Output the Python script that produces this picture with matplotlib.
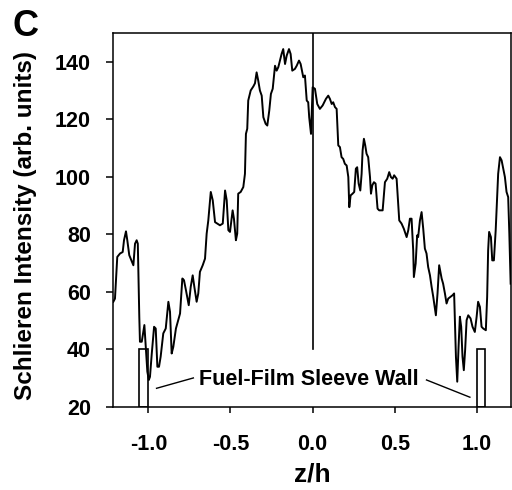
import numpy as np
import matplotlib
matplotlib.use("Agg")
import matplotlib.pyplot as plt
from matplotlib.patches import Rectangle

plt.rcParams['font.family'] = ['Liberation Sans', 'DejaVu Sans']
plt.rcParams['font.weight'] = 'bold'

# schlieren intensity profile across the channel (z/h)
z_h = [-1.213, -1.203, -1.189, -1.172, -1.156, -1.148, -1.136, -1.128, -1.116, -1.099,
       -1.091, -1.081, -1.071, -1.064, -1.055, -1.051, -1.040, -1.024, -1.014, -1.006,
       -0.997, -0.990, -0.979, -0.965, -0.955, -0.945, -0.935, -0.925, -0.909, -0.894,
       -0.878, -0.868, -0.858, -0.848, -0.832, -0.818, -0.807, -0.793, -0.783, -0.771,
       -0.754, -0.742, -0.730, -0.720, -0.706, -0.696, -0.686, -0.669, -0.655, -0.645,
       -0.635, -0.620, -0.608, -0.594, -0.564, -0.547, -0.533, -0.523, -0.513, -0.503,
       -0.487, -0.479, -0.467, -0.459, -0.453, -0.438, -0.422, -0.412, -0.406, -0.398,
       -0.392, -0.377, -0.361, -0.351, -0.341, -0.331, -0.321, -0.310, -0.300, -0.286,
       -0.276, -0.264, -0.254, -0.243, -0.229, -0.219, -0.209, -0.199, -0.189, -0.179,
       -0.168, -0.158, -0.144, -0.134, -0.124, -0.108, -0.097, -0.083, -0.073,
       -0.057, -0.047, -0.036, -0.027, -0.021, -0.010, 0.0, 0.014, 0.028, 0.044,
       0.061, 0.081, 0.095, 0.105, 0.116, 0.125, 0.136, 0.146, 0.156, 0.166,
       0.176, 0.186, 0.196, 0.207, 0.217, 0.223, 0.231, 0.243, 0.253, 0.263,
       0.271, 0.280, 0.290, 0.298, 0.304, 0.312, 0.320, 0.328, 0.338, 0.349,
       0.355, 0.363, 0.373, 0.383, 0.395, 0.405, 0.426, 0.440, 0.454, 0.466,
       0.476, 0.487, 0.496, 0.511, 0.521, 0.527, 0.541, 0.555, 0.572, 0.582, 0.592,
       0.602, 0.612, 0.616, 0.627, 0.636, 0.642, 0.653, 0.663, 0.673, 0.683,
       0.693, 0.703, 0.714, 0.724, 0.734, 0.750, 0.760, 0.770, 0.785, 0.794,
       0.805, 0.815, 0.825, 0.839, 0.852, 0.861, 0.866, 0.872, 0.880, 0.888,
       0.896, 0.904, 0.912, 0.920, 0.928, 0.937, 0.947, 0.961, 0.973, 0.987,
       0.998, 1.007, 1.018, 1.028, 1.038, 1.054, 1.062, 1.068, 1.074, 1.085,
       1.093, 1.103, 1.114, 1.119, 1.129, 1.140, 1.150, 1.160, 1.170, 1.180,
       1.190, 1.197, 1.205]
intensity = [56.5, 57.6, 72.1, 73.3, 73.8, 77.9, 81.0, 77.9, 72.7, 70.3,
             69.2, 76.7, 77.9, 76.7, 51.3, 42.6, 42.6, 48.4, 39.7, 32.2,
             29.3, 30.4, 38.5, 47.8, 47.2, 33.9, 33.9, 37.4, 45.5, 47.2,
             56.5, 53.0, 38.5, 40.8, 47.2, 50.1, 52.4, 64.6, 64.0, 60.5,
             55.3, 61.7, 65.7, 61.7, 56.5, 59.4, 66.9, 69.2, 71.5, 80.2,
             84.8, 94.7, 91.8, 84.2, 83.1, 83.7, 95.2, 91.8, 81.4, 80.8,
             88.3, 85.4, 77.9, 80.2, 94.1, 94.7, 96.4, 101.0, 114.9, 116.7,
             126.5, 130.0, 131.4, 132.5, 136.3, 133.4, 130.0, 128.2, 120.7, 118.4,
             117.8, 123.0, 128.8, 130.6, 138.6, 136.9, 138.1, 140.4, 142.7, 144.4,
             139.2, 142.1, 144.4, 142.7, 136.9, 137.5, 138.6, 140.4, 139.2,
             134.6, 135.2, 126.5, 125.9, 120.7, 114.9, 131.1, 130.6, 125.3, 123.6,
             124.8, 127.1, 128.2, 127.1, 125.3, 125.9, 124.2, 123.6, 110.9, 110.3,
             106.8, 106.2, 104.5, 103.9, 99.9, 89.4, 93.5, 94.1, 94.7, 102.8,
             103.3, 97.6, 95.2, 101.0, 109.1, 113.2, 110.9, 108.0, 106.8, 99.9,
             94.1, 97.0, 98.1, 97.6, 88.9, 88.3, 88.3, 98.1, 99.3, 101.6,
             99.9, 99.3, 100.5, 99.3, 90.6, 84.8, 83.7, 81.9, 79.0, 81.4, 85.4,
             85.4, 74.4, 65.1, 69.8, 79.6, 79.0, 84.8, 87.7, 81.9, 75.0,
             73.3, 68.6, 65.7, 61.7, 58.2, 51.8, 59.4, 69.2, 64.6, 62.8,
             59.4, 55.9, 57.6, 58.2, 58.8, 59.4, 49.0, 37.4, 28.7, 40.8,
             51.3, 47.8, 37.4, 32.7, 39.7, 50.1, 51.8, 50.7, 47.8, 46.0,
             51.3, 56.5, 54.7, 47.8, 47.2, 46.6, 58.2, 74.4, 80.8, 79.0,
             70.9, 70.9, 81.4, 87.7, 101.0, 106.8, 105.7, 102.8, 99.9, 94.7,
             92.9, 80.2, 62.8]

# sleeve wall markers (z/h extents) and the centre line
wall_left = (-1.055, -1.0)
wall_right = (1.0, 1.05)
wall_top = 40
centre_z = 0.0
centre_from = 40

x_ticks = [-1.0, -0.5, 0.0, 0.5, 1.0]
y_ticks = [20, 40, 60, 80, 100, 120, 140]

fig = plt.figure(figsize=(5.12, 4.9), dpi=100)
ax = fig.add_axes([0.2207, 0.170, 0.7773, 0.7627])

ax.plot(z_h, intensity, color='black', lw=1.4)
ax.plot([centre_z, centre_z], [centre_from, 150], color='black', lw=1.2)

for lo, hi in (wall_left, wall_right):
    ax.add_patch(Rectangle((lo, 20), hi - lo, wall_top - 20, fill=False,
                           edgecolor='black', lw=1.2, zorder=3))

ax.text(-0.026, 29.3, 'Fuel-Film Sleeve Wall', ha='center', va='center',
        fontsize=15.5, fontweight='bold')
ax.plot([-0.950, -0.726], [26.4, 30.0], color='black', lw=1.0)
ax.plot([0.693, 0.957], [29.3, 23.3], color='black', lw=1.0)

ax.set_xlim(-1.215, 1.207)
ax.set_ylim(20, 150)
ax.set_xticks(x_ticks)
ax.set_xticklabels(['-1.0', '-0.5', '0.0', '0.5', '1.0'])
ax.set_yticks(y_ticks)

ax.tick_params(axis='x', direction='out', length=4.5, width=1.1, pad=15,
               labelsize=15.5)
ax.tick_params(axis='y', direction='out', length=5, width=1.1, pad=11,
               labelsize=15.5)
for lab in ax.get_xticklabels() + ax.get_yticklabels():
    lab.set_fontweight('bold')
for sp in ax.spines.values():
    sp.set_linewidth(1.1)

ax.set_xlabel('z/h', fontsize=19, fontweight='bold')
ax.set_ylabel('Schlieren Intensity (arb. units)', fontsize=17.5, fontweight='bold')
ax.xaxis.set_label_coords(0.5, -0.15)
ax.yaxis.set_label_coords(-0.19, 0.484)

fig.text(0.024, 0.982, 'C', ha='left', va='top', fontsize=26, fontweight='bold')

fig.savefig('out.png', dpi=100)
